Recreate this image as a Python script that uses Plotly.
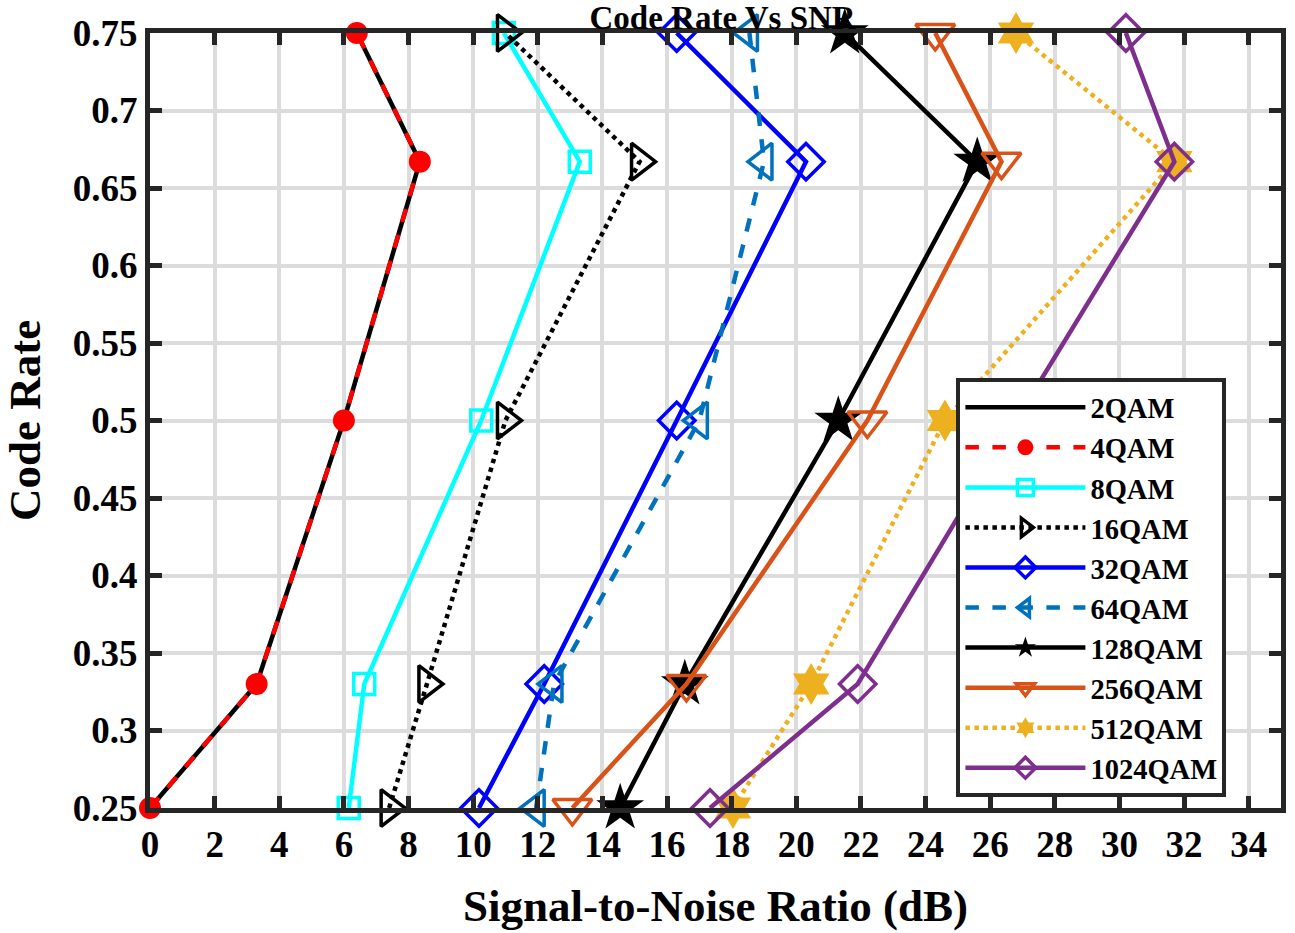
import plotly.graph_objects as go

code_rate = [0.25, 0.33, 0.5, 0.667, 0.75]

snr_2qam = [0.0, 3.3, 6.0, 8.35, 6.4]
snr_4qam = [0.0, 3.3, 6.0, 8.35, 6.4]
snr_8qam = [6.15, 6.63, 10.25, 13.3, 10.95]
snr_16qam = [7.4, 8.57, 11.0, 15.15, 11.0]
snr_32qam = [10.18, 12.2, 16.3, 20.3, 16.3]
snr_64qam = [11.95, 12.5, 17.0, 19.0, 18.55]
snr_128qam = [14.55, 16.55, 21.3, 25.6, 21.5]
snr_256qam = [13.07, 16.6, 22.2, 26.35, 24.3]
snr_512qam = [18.04, 20.46, 24.6, 31.7, 26.8]
snr_1024qam = [17.33, 21.9, 26.8, 31.7, 30.2]

x_ticks = list(range(0, 35, 2))
y_ticks = [0.25, 0.3, 0.35, 0.4, 0.45, 0.5, 0.55, 0.6, 0.65, 0.7, 0.75]
y_labels = ["0.25", "0.3", "0.35", "0.4", "0.45", "0.5", "0.55", "0.6", "0.65", "0.7", "0.75"]

FONT = "Liberation Serif, Times New Roman, serif"
AX = "#262626"

# name, values, colour, dash, marker symbol, marker size, filled
series = [
    ("2QAM", snr_2qam, "black", "solid", None, 0, False),
    ("4QAM", snr_4qam, "red", "dash", "circle", 22, True),
    ("8QAM", snr_8qam, "cyan", "solid", "square-open", 21, False),
    ("16QAM", snr_16qam, "black", "dot", "triangle-right-open", 32, False),
    ("32QAM", snr_32qam, "blue", "solid", "diamond-open", 28, False),
    ("64QAM", snr_64qam, "#0072BD", "dash", "triangle-left-open", 32, False),
    ("128QAM", snr_128qam, "black", "solid", "star", 36, True),
    ("256QAM", snr_256qam, "#D95319", "solid", "triangle-down-open", 34, False),
    ("512QAM", snr_512qam, "#EDB120", "dot", "hexagram", 32, True),
    ("1024QAM", snr_1024qam, "#7E2F8E", "solid", "diamond-open", 28, False),
]

fig = go.Figure()
for name, xs, color, dash, symbol, size, filled in series:
    if symbol is None:
        mode = "lines"
        marker = None
    else:
        mode = "lines+markers"
        marker = dict(symbol=symbol, size=size, color=color,
                      line=dict(color=color, width=0 if filled else 3.5))
    fig.add_trace(go.Scatter(
        x=xs, y=code_rate, name=name, mode=mode,
        line=dict(color=color, width=4.5, dash=dash),
        marker=marker, cliponaxis=False,
    ))

fig.update_layout(
    width=1295, height=933,
    paper_bgcolor="white", plot_bgcolor="white",
    margin=dict(l=150, r=9, t=33, b=120),
    font=dict(family=FONT, color="black"),
    title=dict(text="Code Rate Vs SNR", x=0.558, xanchor="center",
               y=0.981, yanchor="middle",
               font=dict(size=33, weight="bold", family=FONT)),
    legend=dict(x=0.713, y=0.5545, xanchor="left", yanchor="top",
                bgcolor="white", bordercolor=AX, borderwidth=4,
                font=dict(size=28.5, weight="bold", family=FONT),
                itemwidth=120, tracegroupgap=0),
)
fig.update_xaxes(
    range=[0, 35], tickvals=x_ticks, ticks="inside", ticklen=12, tickwidth=5,
    tickcolor=AX, showline=True, linecolor=AX, linewidth=5, mirror="ticks",
    showgrid=True, gridcolor="#dcdcdc", gridwidth=4, zeroline=False,
    tickfont=dict(size=37, weight="bold", family=FONT),
    title=dict(text="Signal-to-Noise Ratio (dB)", standoff=27,
               font=dict(size=45, weight="bold", family=FONT)),
)
fig.update_yaxes(
    range=[0.25, 0.75], tickvals=y_ticks, ticktext=y_labels,
    ticks="inside", ticklen=12, tickwidth=5,
    tickcolor=AX, showline=True, linecolor=AX, linewidth=5, mirror="ticks",
    showgrid=True, gridcolor="#dcdcdc", gridwidth=4, zeroline=False,
    tickfont=dict(size=37, weight="bold", family=FONT),
    title=dict(text="Code Rate", standoff=30,
               font=dict(size=45, weight="bold", family=FONT)),
)

# drop the default 8px page margin so the figure sits at the window corner
fig.write_html("out.html", config={"displayModeBar": False},
               post_script="document.body.style.margin = '0px';")
